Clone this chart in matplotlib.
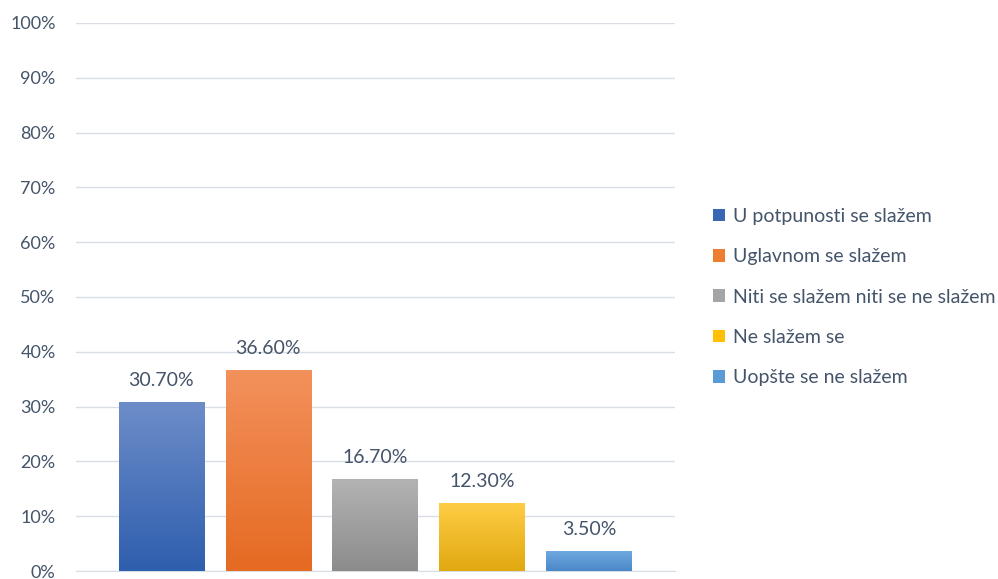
import matplotlib
matplotlib.use("Agg")
import matplotlib.pyplot as plt
from matplotlib.colors import LinearSegmentedColormap
from matplotlib.patches import Patch
import numpy as np

plt.rcParams['font.family'] = ['Lato', 'DejaVu Sans']

categories = ["U potpunosti se slažem", "Uglavnom se slažem",
              "Niti se slažem niti se ne slažem", "Ne slažem se",
              "Uopšte se ne slažem"]
values = [30.7, 36.6, 16.7, 12.3, 3.5]
labels = ["30.70%", "36.60%", "16.70%", "12.30%", "3.50%"]
yticks = [0, 10, 20, 30, 40, 50, 60, 70, 80, 90, 100]

# (top colour, bottom colour) for the vertical gradient
grads = [("#6d8dc9", "#2e5eae"), ("#f3915c", "#e56a22"),
         ("#b3b3b3", "#8c8c8c"), ("#ffcd45", "#e0a810"),
         ("#6fa8de", "#4a88c9")]
solid = ["#3a66b4", "#ed7d31", "#a5a5a5", "#ffc000", "#5b9bd5"]

text_col = "#44546a"
grid_col = "#d9dde4"

fig = plt.figure(figsize=(9.98, 5.79), dpi=100)
ax = fig.add_axes([0.076, 0.0138, 0.6, 0.9465])

x = np.arange(len(values))
bars = ax.bar(x, values, width=0.8, color="none", zorder=3)
grad = np.linspace(1, 0, 256).reshape(-1, 1)
for b, (top, bot) in zip(bars, grads):
    cmap = LinearSegmentedColormap.from_list("g", [bot, top])
    x0, y0 = b.get_x(), b.get_y()
    ax.imshow(grad, cmap=cmap, aspect="auto", zorder=3,
              extent=[x0, x0 + b.get_width(), y0, y0 + b.get_height()])

for xi, v, lab in zip(x, values, labels):
    ax.annotate(lab, (xi, v), xytext=(0, 10), textcoords="offset points",
                ha="center", va="bottom", fontsize=14, color=text_col)

ax.set_xlim(-0.8, 4.8)
ax.set_ylim(0, 100)
ax.set_yticks(yticks)
ax.set_yticklabels([f"{t}%" for t in yticks])
ax.set_xticks([])
ax.tick_params(axis="y", length=0, pad=14.5, labelsize=13, labelcolor=text_col)
ax.grid(axis="y", color=grid_col, linewidth=1, zorder=0)
for s in ["top", "right", "left"]:
    ax.spines[s].set_visible(False)
ax.spines["bottom"].set_color(grid_col)

handles = [Patch(facecolor=c) for c in solid]
fig.legend(handles, categories, loc="center left", bbox_to_anchor=(0.697, 0.487),
           frameon=False, fontsize=14, labelcolor=text_col, handlelength=0.6,
           handleheight=0.6, handletextpad=0.4, labelspacing=1.2)

fig.savefig("out.png", dpi=100)
